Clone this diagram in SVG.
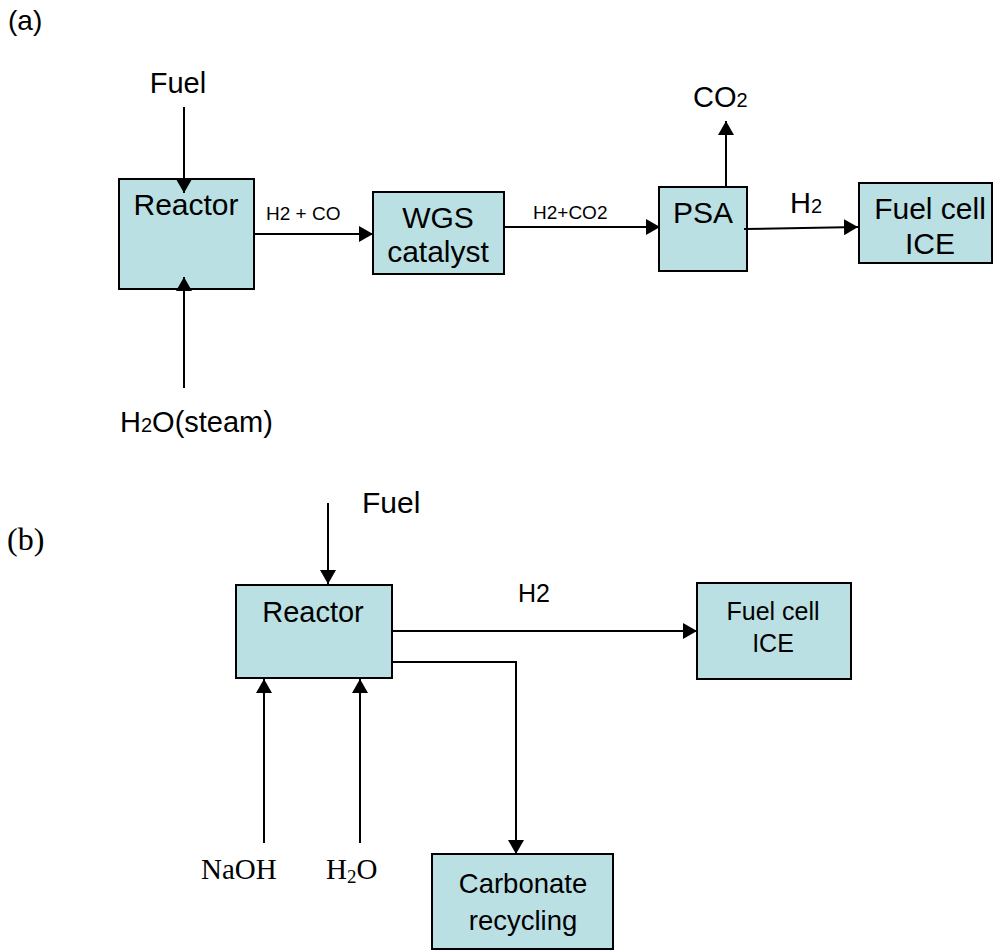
<svg xmlns="http://www.w3.org/2000/svg" width="993" height="951" viewBox="0 0 993 951">
<style>
.box{fill:#BAE0E3;stroke:#000;stroke-width:2}
.ln{fill:none;stroke:#000;stroke-width:2}
.a{font-family:"Liberation Sans",Arial,sans-serif;fill:#000}
.t{font-family:"Liberation Serif","Times New Roman",serif;fill:#000}
.c{text-anchor:middle}
</style>
<defs>
<marker id="ah" viewBox="0 0 14 16" refX="14" refY="8" markerWidth="14" markerHeight="16" markerUnits="userSpaceOnUse" orient="auto">
<path d="M0,0 L14,8 L0,16 z" fill="#000"/>
</marker>
</defs>
<rect width="993" height="951" fill="#fff"/>
<text class="a" x="8" y="30" font-size="28">(a)</text>
<text class="t" x="7" y="550" font-size="32">(b)</text>
<g id="fuel-a"><text class="a c" x="178" y="93" font-size="29">Fuel</text></g>
<g id="steam-a"><text class="a" x="120" y="432" font-size="29">H<tspan font-size="20">2</tspan>O(steam)</text></g>
<g id="reactor-a">
<rect class="box" x="119" y="179" width="135" height="110"/>
<text class="a c" x="186" y="215" font-size="30">Reactor</text>
</g>
<g id="wgs">
<rect class="box" x="373" y="192" width="131" height="82"/>
<text class="a c" x="438" y="228" font-size="30">WGS</text>
<text class="a c" x="438" y="262" font-size="30">catalyst</text>
</g>
<g id="psa">
<rect class="box" x="659" y="187" width="88" height="84"/>
<text class="a c" x="703" y="223" font-size="30">PSA</text>
</g>
<g id="fuelcell-a">
<rect class="box" x="859" y="183" width="133" height="80"/>
<text class="a c" x="930" y="219" font-size="30">Fuel cell</text>
<text class="a c" x="930" y="254" font-size="30">ICE</text>
</g>
<g id="fuel-b"><text class="a" x="362" y="513" font-size="30">Fuel</text></g>
<g id="reactor-b">
<rect class="box" x="236" y="585" width="156" height="93"/>
<text class="a c" x="313" y="622" font-size="29">Reactor</text>
</g>
<g id="fuelcell-b">
<rect class="box" x="697" y="583" width="154" height="96"/>
<text class="a c" x="773" y="620" font-size="25">Fuel cell</text>
<text class="a c" x="773" y="652" font-size="25">ICE</text>
</g>
<g id="naoh"><text class="t" x="201" y="879" font-size="29">NaOH</text></g>
<g id="h2o-b"><text class="t" x="326" y="879" font-size="29">H<tspan font-size="19" dy="4">2</tspan><tspan dy="-4">O</tspan></text></g>
<g id="carbonate">
<rect class="box" x="432" y="854" width="181" height="95"/>
<text class="a c" x="523" y="893" font-size="27.5">Carbonate</text>
<text class="a c" x="523" y="930" font-size="27.5">recycling</text>
</g>
<g id="connectors">
<line class="ln" x1="184" y1="107" x2="184" y2="193" marker-end="url(#ah)"/>
<line class="ln" x1="184" y1="388" x2="184" y2="277" marker-end="url(#ah)"/>
<line class="ln" x1="254" y1="234" x2="373" y2="234" marker-end="url(#ah)"/>
<line class="ln" x1="504" y1="227" x2="660" y2="227" marker-end="url(#ah)"/>
<line class="ln" x1="726" y1="187" x2="726" y2="121" marker-end="url(#ah)"/>
<line class="ln" x1="744" y1="229" x2="858" y2="227" marker-end="url(#ah)"/>
<line class="ln" x1="328" y1="503" x2="328" y2="584" marker-end="url(#ah)"/>
<line class="ln" x1="264" y1="843" x2="264" y2="679" marker-end="url(#ah)"/>
<line class="ln" x1="360" y1="843" x2="360" y2="679" marker-end="url(#ah)"/>
<line class="ln" x1="392" y1="631" x2="697" y2="631" marker-end="url(#ah)"/>
<polyline class="ln" points="392,662 516,662 516,854" marker-end="url(#ah)"/>
<text class="a" x="266" y="220" font-size="19">H2 + CO</text>
<text class="a" x="533" y="219" font-size="19">H2+CO2</text>
<text class="a" x="693" y="107" font-size="29">CO<tspan font-size="20">2</tspan></text>
<text class="a" x="790" y="213" font-size="29">H<tspan font-size="20">2</tspan></text>
<text class="a" x="518" y="602" font-size="25">H2</text>
</g>
</svg>
